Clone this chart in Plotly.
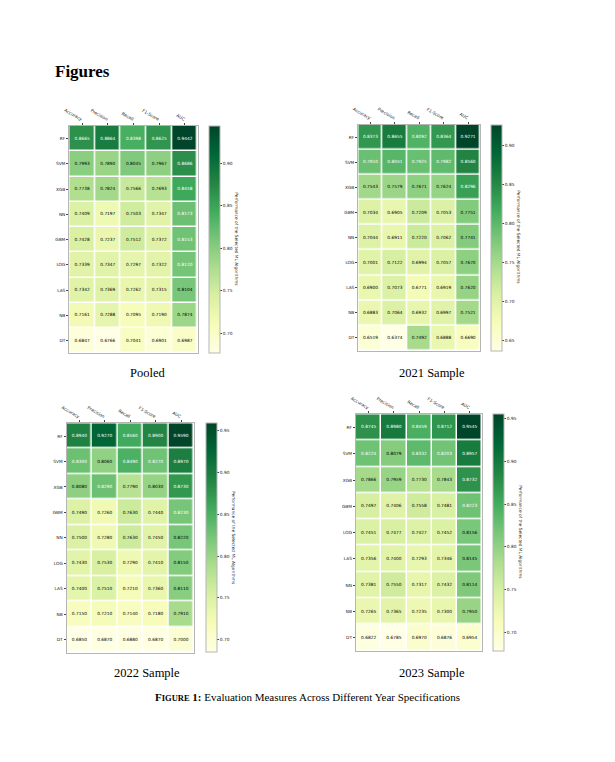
import numpy as np
import plotly.graph_objects as go

# Evaluation measures, one heatmap per year specification
COLUMNS = ["Accuracy", "Precision", "Recall", "F1-Score", "AUC"]

POOLED_ROWS = ["RF", "SVM", "XGB", "NN", "GBM", "LOG", "LAS", "NB", "DT"]
POOLED_VALUES = [
    [0.8665, 0.8864, 0.8398, 0.8625, 0.9442],
    [0.7993, 0.7890, 0.8045, 0.7967, 0.8686],
    [0.7738, 0.7824, 0.7566, 0.7693, 0.8458],
    [0.7409, 0.7197, 0.7503, 0.7347, 0.8173],
    [0.7428, 0.7237, 0.7512, 0.7372, 0.8153],
    [0.7339, 0.7347, 0.7297, 0.7322, 0.8120],
    [0.7342, 0.7369, 0.7262, 0.7315, 0.8104],
    [0.7161, 0.7288, 0.7095, 0.7190, 0.7874],
    [0.6847, 0.6766, 0.7041, 0.6901, 0.6987],
]

ROWS_2021 = ["RF", "SVM", "XGB", "GBM", "NN", "LOG", "LAS", "NB", "DT"]
VALUES_2021 = [
    [0.8373, 0.8655, 0.8092, 0.8364, 0.9271],
    [0.7910, 0.8041, 0.7925, 0.7982, 0.8560],
    [0.7543, 0.7579, 0.7671, 0.7624, 0.8296],
    [0.7034, 0.6905, 0.7209, 0.7053, 0.7751],
    [0.7044, 0.6911, 0.7220, 0.7062, 0.7741],
    [0.7001, 0.7122, 0.6994, 0.7057, 0.7670],
    [0.6900, 0.7073, 0.6771, 0.6919, 0.7620],
    [0.6883, 0.7064, 0.6932, 0.6997, 0.7521],
    [0.6519, 0.6374, 0.7492, 0.6888, 0.6690],
]

ROWS_2022 = ["RF", "SVM", "XGB", "GBM", "NN", "LOG", "LAS", "NB", "DT"]
VALUES_2022 = [
    [0.8940, 0.9270, 0.8560, 0.8900, 0.9590],
    [0.8300, 0.8060, 0.8490, 0.8270, 0.8970],
    [0.8080, 0.8290, 0.7790, 0.8030, 0.8730],
    [0.7490, 0.7260, 0.7630, 0.7440, 0.8230],
    [0.7500, 0.7280, 0.7630, 0.7450, 0.8220],
    [0.7430, 0.7530, 0.7290, 0.7410, 0.8150],
    [0.7400, 0.7510, 0.7210, 0.7360, 0.8110],
    [0.7150, 0.7210, 0.7140, 0.7180, 0.7910],
    [0.6850, 0.6870, 0.6880, 0.6870, 0.7000],
]

ROWS_2023 = ["RF", "SVM", "XGB", "GBM", "LOG", "LAS", "NN", "NB", "DT"]
VALUES_2023 = [
    [0.8745, 0.8980, 0.8459, 0.8712, 0.9545],
    [0.8224, 0.8079, 0.8332, 0.8203, 0.8957],
    [0.7866, 0.7959, 0.7730, 0.7843, 0.8732],
    [0.7497, 0.7406, 0.7558, 0.7481, 0.8223],
    [0.7451, 0.7477, 0.7427, 0.7452, 0.8156],
    [0.7356, 0.7400, 0.7293, 0.7346, 0.8145],
    [0.7381, 0.7550, 0.7317, 0.7432, 0.8114],
    [0.7265, 0.7365, 0.7235, 0.7300, 0.7950],
    [0.6822, 0.6785, 0.6970, 0.6876, 0.6954],
]

CAPTIONS = ["Pooled", "2021 Sample", "2022 Sample", "2023 Sample"]
CBAR_TITLE = "Performance of the Selected ML Algorithms"

# the page body keeps its 8px margin, so the figure is a bit smaller than the window
PAD = 8
W, H = 615 - PAD, 762 - PAD

# YlGn (matplotlib)
YLGN = ["#ffffe5", "#f7fcb9", "#d9f0a3", "#addd8e", "#78c679",
        "#41ab5d", "#238443", "#006837", "#004529"]
colorscale = [[i / (len(YLGN) - 1), c] for i, c in enumerate(YLGN)]

# window-pixel geometry of each panel: heatmap x0, x1, y0, y1, colorbar left, caption centre
panels = [
    dict(rows=POOLED_ROWS, vals=POOLED_VALUES, box=(69.3, 197.7, 126.0, 353.3), cb=209.3, cap=(147, 373)),
    dict(rows=ROWS_2021, vals=VALUES_2021, box=(358.3, 480.3, 124.7, 350.5), cb=491.3, cap=(432, 373)),
    dict(rows=ROWS_2022, vals=VALUES_2022, box=(66.7, 193.7, 423.3, 652.6), cb=206.0, cap=(147, 673)),
    dict(rows=ROWS_2023, vals=VALUES_2023, box=(356.0, 482.3, 414.3, 650.9), cb=493.3, cap=(432, 673)),
]


def xp(px):
    return (px - PAD) / W


def yp(py):
    return 1 - (py - PAD) / H


small = dict(family="DejaVu Sans", size=4.3, color="#222222")
frame = "#b5b5b5"

fig = go.Figure()
annotations = []

for i, p in enumerate(panels):
    n = "" if i == 0 else str(i + 1)
    z = np.array(p["vals"])
    zmin, zmax = z.min(), z.max()
    x0, x1, y0, y1 = p["box"]

    fig.add_trace(go.Heatmap(
        z=z, x=COLUMNS, y=p["rows"],
        zmin=zmin, zmax=zmax, colorscale=colorscale,
        xgap=1.5, ygap=1.5,
        xaxis="x" + n, yaxis="y" + n,
        colorbar=dict(
            x=xp(p["cb"]), xanchor="left", xpad=0,
            y=yp(y0), yanchor="top", ypad=0,
            lenmode="pixels", len=y1 - y0, thickness=11,
            outlinewidth=1, outlinecolor=frame,
            ticks="outside", ticklen=2, tickwidth=0.5, tickcolor="#444",
            tick0=0, dtick=0.05, tickformat=".2f", tickfont=small,
        ),
        hovertemplate="%{y} %{x}: %{z:.4f}<extra></extra>",
    ))

    # annotate cells, white text on the darker half of the scale
    norm = (z - zmin) / (zmax - zmin)
    xs, ys, txt, cols = [], [], [], []
    for r, row in enumerate(p["rows"]):
        for c, col in enumerate(COLUMNS):
            xs.append(col)
            ys.append(row)
            txt.append(f"{z[r, c]:.4f}")
            cols.append("white" if norm[r, c] > 0.5 + 1e-9 else "black")
    fig.add_trace(go.Scatter(
        x=xs, y=ys, text=txt, mode="text",
        textfont=dict(family="DejaVu Sans", size=4.3, color=cols),
        xaxis="x" + n, yaxis="y" + n, hoverinfo="skip", showlegend=False,
    ))

    axis_common = dict(showgrid=False, zeroline=False, showline=True, mirror=True,
                       linecolor=frame, linewidth=1.2, ticks="outside", ticklen=2,
                       tickwidth=0.5, tickcolor="#444", tickfont=small)
    fig.update_layout(**{
        "xaxis" + n: dict(domain=[xp(x0), xp(x1)], anchor="y" + n, side="top",
                          tickangle=30, range=[-0.5, 4.5], **axis_common),
        "yaxis" + n: dict(domain=[yp(y1), yp(y0)], anchor="x" + n,
                          range=[8.5, -0.5], **axis_common),
    })

    annotations.append(dict(
        text=CBAR_TITLE, x=xp(p["cb"] + 27), y=yp((y0 + y1) / 2),
        xanchor="center", yanchor="middle",
        xref="paper", yref="paper", showarrow=False, textangle=90,
        font=dict(family="DejaVu Sans", size=4.3, color="#222222"),
    ))
    annotations.append(dict(
        text=CAPTIONS[i], x=xp(p["cap"][0]), y=yp(p["cap"][1]),
        xanchor="center", yanchor="middle",
        xref="paper", yref="paper", showarrow=False,
        font=dict(family="Liberation Serif", size=12.5, color="black"),
    ))

annotations.append(dict(
    text="Figures", x=xp(53), y=yp(72), xanchor="left", yanchor="middle",
    xref="paper", yref="paper", showarrow=False,
    font=dict(family="Liberation Serif", size=17, color="black", weight="bold"),
))
annotations.append(dict(
    text="<b>F<span style='font-size:8.5px'>IGURE</span> 1:</b> Evaluation Measures Across Different Year Specifications",
    x=xp(307), y=yp(697), xanchor="center", yanchor="middle",
    xref="paper", yref="paper", showarrow=False,
    font=dict(family="Liberation Serif", size=11, color="black"),
))

fig.update_layout(
    width=W, height=H,
    margin=dict(l=0, r=0, t=0, b=0, autoexpand=False),
    paper_bgcolor="white", plot_bgcolor="white",
    annotations=annotations,
    showlegend=False,
)

fig.write_html("out.html")
